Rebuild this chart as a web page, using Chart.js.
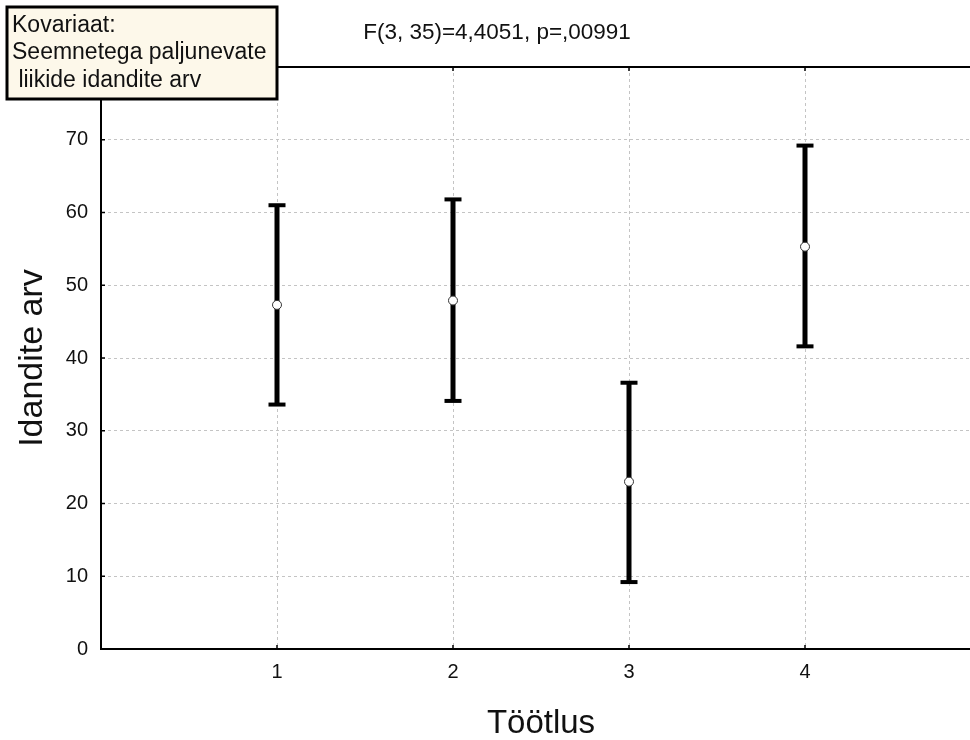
<!DOCTYPE html>
<html>
<head>
<meta charset="utf-8">
<script src="https://cdn.jsdelivr.net/npm/chart.js@4/dist/chart.umd.min.js"></script>
<style>
  html, body { margin: 0; padding: 0; background: #ffffff; overflow: hidden; }
  #wrap { width: 1000px; height: 740px; }
</style>
</head>
<body>
<div id="wrap"><canvas id="chart" width="1000" height="740"></canvas></div>
<script>
// Treatment groups (Töötlus) and covariate-adjusted means with 95% CI bounds
const groups = [1, 2, 3, 4];
const means = [47.3, 47.9, 23.0, 55.3];
const upper = [61.0, 61.8, 36.6, 69.2];
const lower = [33.6, 34.1, 9.2, 41.6];
const yTicks = [0, 10, 20, 30, 40, 50, 60, 70, 80];
const xTicks = [0, 1, 2, 3, 4, 5];

const statText = 'F(3, 35)=4,4051, p=,00991';
const noteLines = ['Kovariaat:', 'Seemnetega paljunevate', ' liikide idandite arv'];

const FONT = '"Liberation Sans", Arial, Helvetica, sans-serif';

// vertical whiskers, one line dataset per group
const whiskers = groups.map((g, i) => ({
  type: 'line',
  data: [{ x: g, y: lower[i] }, { x: g, y: upper[i] }],
  borderColor: '#000000',
  borderWidth: 5,
  borderCapStyle: 'butt',
  pointRadius: 0,
  order: 3
}));

// horizontal caps at both ends of each interval
const caps = {
  type: 'scatter',
  data: groups.flatMap((g, i) => [{ x: g, y: upper[i] }, { x: g, y: lower[i] }]),
  pointStyle: 'line',
  pointRadius: 8.5,
  pointBorderWidth: 4,
  pointBorderColor: '#000000',
  order: 2
};

// group means
const meanPoints = {
  type: 'scatter',
  data: groups.map((g, i) => ({ x: g, y: means[i] })),
  pointStyle: 'circle',
  pointRadius: 4.5,
  pointBackgroundColor: '#ffffff',
  pointBorderColor: '#333333',
  pointBorderWidth: 1,
  order: 1
};

// frame extras: top axis line, inward tick marks, stat caption, covariate note box
const framePlugin = {
  id: 'frame',
  afterDraw(chart) {
    const { ctx, chartArea: a, scales: { x, y } } = chart;
    ctx.save();
    ctx.strokeStyle = '#000000';
    ctx.lineWidth = 2;
    ctx.beginPath();
    ctx.moveTo(a.left - 1, a.top);
    ctx.lineTo(a.right + 20, a.top);
    ctx.stroke();

    ctx.lineWidth = 1.5;
    ctx.beginPath();
    yTicks.forEach(v => {
      const py = y.getPixelForValue(v);
      ctx.moveTo(a.left, py);
      ctx.lineTo(a.left + 4, py);
    });
    groups.forEach(g => {
      const px = x.getPixelForValue(g);
      ctx.moveTo(px, a.bottom);
      ctx.lineTo(px, a.bottom - 4);
      ctx.moveTo(px, a.top);
      ctx.lineTo(px, a.top + 4);
    });
    ctx.stroke();

    ctx.fillStyle = '#111111';
    ctx.font = '22.5px ' + FONT;
    ctx.textAlign = 'center';
    ctx.textBaseline = 'alphabetic';
    ctx.fillText(statText, 497, 39);

    ctx.fillStyle = '#fdf8ea';
    ctx.fillRect(7, 7, 270, 92);
    ctx.lineWidth = 3;
    ctx.strokeStyle = '#000000';
    ctx.strokeRect(7, 7, 270, 92);
    ctx.fillStyle = '#111111';
    ctx.textAlign = 'left';
    ctx.font = '23px ' + FONT;
    ctx.fillText(noteLines[0], 12, 32);
    ctx.fillText(noteLines[1], 12, 59);
    ctx.fillText(noteLines[2], 12, 87);
    ctx.restore();
  }
};

new Chart(document.getElementById('chart'), {
  data: { datasets: [...whiskers, caps, meanPoints] },
  options: {
    responsive: false,
    animation: false,
    layout: { padding: { top: 67, right: 19, bottom: 0, left: 0 } },
    plugins: { legend: { display: false }, tooltip: { enabled: false }, title: { display: false } },
    scales: {
      x: {
        type: 'linear',
        min: 0,
        max: 5,
        afterBuildTicks(scale) { scale.ticks = xTicks.map(v => ({ value: v })); },
        afterFit(scale) { scale.height = 91; },
        ticks: {
          padding: 11,
          color: '#111111',
          font: { family: FONT, size: 20 },
          callback: v => (groups.includes(v) ? String(v) : '')
        },
        grid: { color: '#c4c4c4', lineWidth: 1, tickLength: 0 },
        border: { color: '#000000', width: 2, dash: [3, 3] },
        title: {
          display: true,
          text: 'Töötlus',
          color: '#111111',
          font: { family: FONT, size: 33, lineHeight: 1.0 },
          padding: { top: 0, bottom: 0 }
        }
      },
      y: {
        type: 'linear',
        min: 0,
        max: 80,
        afterBuildTicks(scale) { scale.ticks = yTicks.map(v => ({ value: v })); },
        afterFit(scale) { scale.width = 101; },
        ticks: {
          padding: 13,
          color: '#111111',
          font: { family: FONT, size: 20 },
          callback: v => (v === 80 ? '' : String(v))
        },
        grid: { color: '#c4c4c4', lineWidth: 1, tickLength: 0 },
        border: { color: '#000000', width: 2, dash: [3, 3] },
        title: {
          display: true,
          text: 'Idandite arv',
          color: '#111111',
          font: { family: FONT, size: 34, lineHeight: 1.2 },
          padding: { top: 12, bottom: 0 }
        }
      }
    }
  },
  plugins: [framePlugin]
});
</script>
</body>
</html>
